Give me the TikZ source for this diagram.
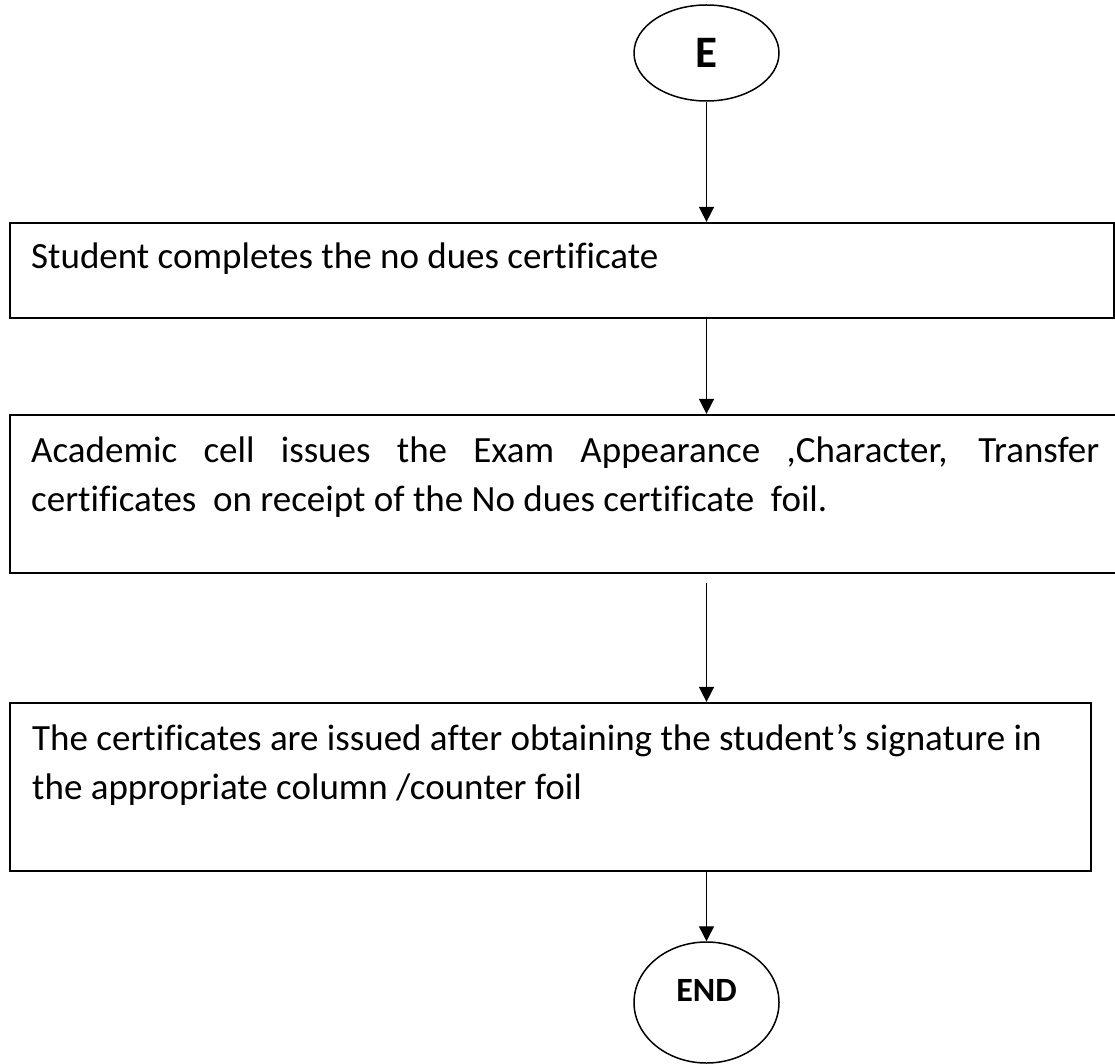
\documentclass[tikz,border=0pt]{standalone}
\usepackage{fontspec}
\setmainfont{Carlito}[Ligatures=NoCommon]
\usetikzlibrary{shapes.geometric,arrows.meta}
\begin{document}
\begin{tikzpicture}[x=1pt,y=-1pt,
  terminal/.style={draw,ellipse,line width=1.5pt,minimum width=145pt,inner sep=0pt},
  stepbox/.style={draw,rectangle,line width=2.2pt,inner sep=0pt},
  steptext/.style={anchor=base west,inner sep=0pt,font=\fontsize{37}{49.5}\selectfont},
  flow/.style={line width=1.4pt,-{Triangle[width=15pt,length=15pt]}}]
% page frame; the wide middle box runs past the right edge
\clip (0,0) rectangle (1115,1064);

% start and end terminals
\node[terminal,minimum height=96pt,font=\bfseries\fontsize{45}{45}\selectfont] (E) at (706.5,53) {E};
\node[terminal,minimum height=121pt] (end) at (706.5,1002.5) {};
\node[inner sep=0pt,font=\bfseries\fontsize{34}{34}\selectfont] (endtxt) at ([yshift=12pt]end.center) {END};

% process boxes
\node[stepbox,minimum width=1104pt,minimum height=95pt] (box1) at (562,270.5) {};
\node[stepbox,minimum width=1115pt,minimum height=158pt] (box2) at (567.5,494) {};
\node[stepbox,minimum width=1081pt,minimum height=168pt] (box3) at (550.5,787) {};

% box texts
\node[steptext] (t1) at (31,269) {Student completes the no dues certificate};
\node[steptext,text width=1068pt,align=justify] (t2) at (31,462)
  {Academic cell issues the Exam Appearance ,Character, Transfer\linebreak
   certificates\ \ on receipt of the No dues certificate\ \ foil.};
\node[steptext,text width=1070pt,align=flush left] (t3) at (32,750)
  {The certificates are issued after obtaining the student’s signature in\\
   the appropriate column /counter foil};

% connectors
\coordinate (c3) at (706.5,583);
\draw[flow] (E.south) -- (E.south |- box1.north);
\draw[flow] (E.south |- box1.south) -- (E.south |- box2.north);
\draw[flow] (c3) -- (c3 |- box3.north);
\draw[flow] (end.north |- box3.south) -- (end.north);
\end{tikzpicture}
\end{document}
